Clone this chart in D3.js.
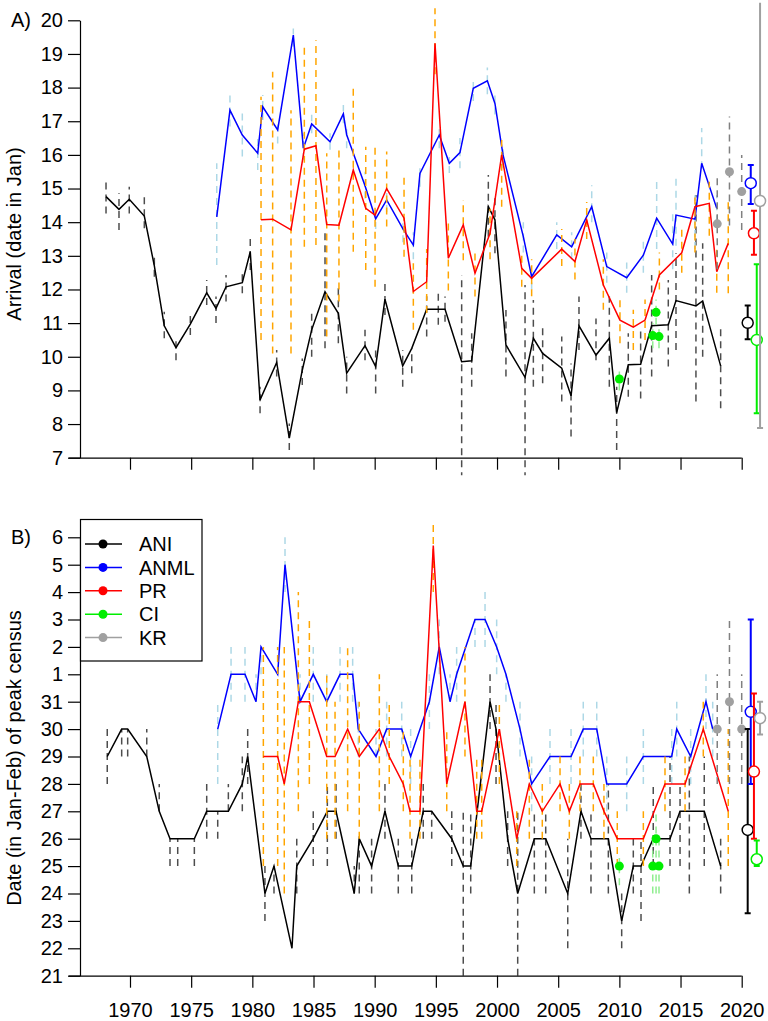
<!DOCTYPE html>
<html lang="en">
<head>
<meta charset="UTF-8">
<title>Arrival and peak census</title>
<script src="https://d3js.org/d3.v7.min.js"></script>
<style>
    body { margin: 0; background: white; }
    text { font-family: "Liberation Sans", Arial, sans-serif; font-size: 20px; fill: black; }
    .axis text { font-family: "Liberation Sans", Arial, sans-serif; font-size: 20px; }
    .axis path, .axis line { stroke: black; stroke-width: 1.2px; }
</style>
</head>
<body>
<svg width="768" height="1021"></svg>
<script>
// ---------- panel A: arrival (date in Jan) ----------
let aniYearA = [1968.04,1969.10,1969.94,1971.17,1971.99,1972.80,1973.76,1974.93,1976.27,1977.03,1977.85,1979.18,1979.83,1980.63,1981.99,1983.02,1984.08,1984.85,1985.94,1987.03,1987.71,1989.21,1990.08,1990.84,1992.29,1993.03,1994.25,1995.20,1995.75,1997.11,1997.93,1999.29,1999.83,2000.73,2002.29,2002.97,2003.73,2005.29,2006.05,2006.70,2008.09,2009.18,2009.78,2010.73,2011.74,2012.64,2014.00,2014.63,2016.26,2016.81,2018.28];
let aniA = [14.76,14.38,14.68,14.18,12.7,10.92,10.27,10.97,11.9,11.44,12.08,12.2,13.12,8.72,9.83,7.58,9.6,10.8,11.93,11.29,9.51,10.33,9.71,11.71,9.73,10.25,11.41,11.41,11.41,9.85,9.88,14.46,14.07,10.35,9.39,10.55,10.1,9.66,8.84,10.92,10.05,10.55,8.34,9.76,9.78,10.92,10.95,11.67,11.51,11.66,9.73];
let aniLoA = [14.26,13.77,14.26,13.82,12.38,10.55,9.9,10.65,11.54,11.0,11.64,11.89,12.58,8.32,9.41,7.23,9.16,10.0,10.25,10.4,8.91,9.9,8.91,11.24,9.11,9.51,10.6,10.95,11.04,6.0,9.11,13.57,13.08,9.41,6.0,9.11,9.21,8.67,7.63,10.2,9.9,9.11,7.23,8.81,8.76,9.41,9.71,10.2,8.67,10.0,8.47];
let aniHiA = [15.25,14.86,15.05,14.76,13.03,11.34,10.55,11.34,12.28,11.79,12.43,12.53,13.62,9.11,10.2,8.02,9.95,11.39,13.77,12.08,10.0,10.8,10.25,12.18,10.2,10.25,11.8,11.89,11.79,12.43,10.7,15.4,14.86,11.39,12.13,11.69,10.89,10.6,9.8,11.79,11.14,11.79,9.11,10.7,10.75,12.43,12.28,13.08,14.81,13.37,10.89];

let anmlYearA = [1977.09,1978.17,1979.18,1980.44,1980.85,1982.07,1983.35,1984.17,1984.85,1986.35,1987.44,1987.71,1989.21,1990.08,1990.98,1992.31,1993.16,1993.70,1995.28,1996.10,1996.97,1998.06,1999.21,1999.83,2000.49,2002.15,2002.83,2004.88,2006.10,2007.74,2008.97,2010.60,2011.96,2013.05,2014.36,2014.63,2016.18,2016.73,2017.96];
let anmlA = [14.16,17.33,16.59,16.05,17.43,16.74,19.56,16.2,16.92,16.39,17.22,16.6,15.08,14.1,14.66,13.8,13.32,15.45,16.59,15.75,16.07,17.98,18.2,17.53,16.0,13.57,12.38,13.62,13.27,14.46,12.68,12.35,13.02,14.12,13.35,14.21,14.09,15.75,14.41];
let anmlLoA = [12.73,16.84,15.95,15.55,17.04,16.34,19.22,15.85,16.64,16.15,16.94,16.2,14.7,13.8,14.3,13.4,12.9,15.05,16.2,15.46,15.6,17.6,17.8,17.2,15.6,13.1,12.0,13.2,12.9,14.0,12.2,11.9,12.5,13.2,12.6,13.3,13.2,15.6,14.0];
let anmlHiA = [15.75,17.83,17.24,16.54,17.78,17.04,19.76,16.64,17.19,16.64,17.48,16.9,15.5,14.5,15.0,14.1,13.7,15.6,16.8,15.94,16.5,18.3,18.6,17.8,16.3,14.0,12.7,14.0,13.7,15.1,13.1,12.8,13.5,15.25,14.3,15.35,14.8,16.8,14.8];

let prYearA = [1980.71,1981.66,1983.16,1984.25,1985.20,1986.08,1987.08,1988.25,1989.27,1990.03,1990.98,1992.40,1993.16,1994.25,1994.93,1996.02,1997.24,1998.20,1999.43,2000.38,2002.02,2002.83,2005.29,2006.37,2007.33,2008.69,2010.05,2011.14,2012.10,2013.27,2015.10,2016.18,2017.35,2017.96,2018.90];
let prA = [14.07,14.09,13.77,16.17,16.27,13.93,13.91,15.55,14.41,14.21,15.0,14.12,11.94,12.23,19.32,12.93,13.92,12.48,13.67,16.0,12.63,12.33,13.2,12.83,14.07,12.13,11.09,10.88,11.09,12.43,13.09,14.46,14.56,12.53,13.37];
let prLoA = [10.5,10.1,10.1,13.27,13.32,10.6,11.64,13.12,12.58,12.08,13.87,12.97,10.8,11.3,18.4,11.97,12.87,11.79,12.9,14.46,12.08,11.8,12.7,12.3,13.5,11.4,10.4,10.2,10.5,12.0,12.5,13.1,13.6,11.9,11.89];
let prHiA = [17.73,18.47,17.33,19.27,19.41,16.05,16.15,18.03,16.24,16.34,16.1,15.47,12.78,13.2,20.36,14.06,14.66,13.07,14.4,16.44,13.12,12.9,13.8,13.5,14.6,12.9,11.8,11.4,11.7,13.1,13.9,14.8,15.2,13.2,14.66];

let ciYearA = [2010.0,2012.73,2013.0,2013.24];
let ciA = [9.34,10.63,11.32,10.6];
let ciLoA = [9.0,10.25,10.95,10.25];
let ciHiA = [9.7,11.0,11.7,10.95];

let krYearA = [2018.0,2019.0,2020.0];
let krA = [13.95,15.5,14.91];
let krLoA = [12.6,13.9,13.77];
let krHiA = [15.4,17.14,16.0];

// overall means at the right edge: ANI, ANML, PR, CI, KR
let sumYear = [2020.49,2020.74,2021.0,2021.23,2021.5];
let sumA = [11.01,15.16,13.67,10.5,14.63];
let sumLoA = [10.52,14.54,13.03,8.32,7.88];
let sumHiA = [11.52,15.7,14.34,12.75,21];

// ---------- panel B: date of peak census (21 Jan .. 6 Feb as day of Jan) ----------
let aniYearB = [1968.14,1969.32,1969.81,1971.37,1972.39,1973.27,1973.90,1975.26,1976.27,1977.17,1978.04,1979.18,1979.62,1981.03,1981.77,1983.24,1983.63,1984.98,1986.13,1986.84,1988.33,1988.74,1989.75,1990.84,1991.93,1993.03,1993.97,1994.66,1996.30,1997.24,1997.85,1999.43,1999.92,2000.87,2001.69,2003.05,2003.98,2005.78,2006.86,2007.68,2009.10,2010.19,2011.14,2011.77,2012.77,2014.14,2014.96,2015.72,2016.94,2018.28];
let aniB = [29,30,30,29,27,26,26,26,27,27,27,28,29,24,25,22,25,26,27,27,24,26,25,27,25,25,27,27,26,25,25,31,30,26,24,26,26,24,27,26,26,23,25,25,26,26,27,27,27,25];
let aniLoB = [28,29,29,29,27,25,25,25,26,26,27,27,28,23,24,22,24,25,25,26,24,24,24,26,24,24,26,26,25,21,24,30,28,25,21,24,24,22,26,24,24,22,24,23,25,25,25,24,25,24];
let aniHiB = [30,30,30,30,28,26,26,26,28,27,28,29,30,25,25,22,26,27,28,28,25,26,26,28,26,26,28,27,27,27,27,32,31,27,27,27,27,26,28,27,28,24,26,26,28,29,28,29,29,26];

let anmlYearB = [1977.17,1978.26,1979.40,1980.30,1980.71,1982.07,1982.67,1983.90,1984.98,1986.08,1987.17,1988.20,1988.66,1990.11,1990.98,1992.21,1992.94,1994.47,1995.28,1996.16,1996.70,1998.20,1999.02,1999.97,2000.73,2001.88,2002.83,2004.33,2006.05,2007.05,2008.15,2008.97,2010.60,2011.96,2014.28,2014.69,2015.83,2017.08,2017.63];
let anmlB = [30,32,32,31,33,32,36,31,32,31,32,32,30,29,30,30,29,31,33,31,32,34,34,33,32,30,28,29,29,30,30,28,28,29,29,30,29,31,30];
let anmlLoB = [28,31,31,31,32,32,35,31,31,31,31,31,29,29,29,29,28,30,32,31,31,33,33,32,31,29,27,28,28,29,29,27,27,28,28,29,28,30,29];
let anmlHiB = [31,33,33,32,33,33,37,32,33,32,33,33,31,30,31,31,30,32,34,32,33,34,35,34,32,31,29,30,30,31,31,29,29,30,30,31,30,32,31];

let prYearB = [1980.90,1982.07,1982.61,1983.76,1984.66,1986.08,1986.76,1987.79,1988.74,1990.38,1991.19,1992.34,1992.89,1993.70,1994.79,1995.89,1997.38,1998.34,1998.75,2000.19,2001.61,2002.64,2003.70,2005.15,2005.91,2006.78,2007.87,2008.74,2009.83,2011.96,2013.73,2015.37,2016.86,2018.90];
let prB = [29,29,28,31,31,29,29,30,29,30,29,28,27,27,36.7,28,31,27,27,30,26,28,27,28,27,28,28,27,26,26,28,28,30,27];
let prLoB = [25,25,24,27,28,26,26,27,26,27,28,27,26,26,35,27,29,26,26,28,25,26,26,27,26,27,27,26,25,25,27,27,29,25];
let prHiB = [33,33,33,35,34,32,31,33,31,32,31,30,29,29,37.6,30,33,29,29,31,27,29,28,29,28,29,29,28,27,27,29,29,31,30];

let ciYearB = [2010.0,2012.73,2013.0,2013.24];
let ciB = [25,25,26,25];
let ciLoB = [24.3,24,24,24];
let ciHiB = [25.3,26,27,26];

let krYearB = [2018.0,2019.0,2020.0];
let krB = [30,31,30];
let krLoB = [28,28,28];
let krHiB = [32,34,32];

let sumB = [26.32,30.63,28.45,25.25,30.4];
let sumLoB = [23.28,28.0,26.0,25.0,29.8];
let sumHiB = [30.0,34.0,31.3,25.93,31.0];

let tickYearsX = [1970,1975,1980,1985,1990,1995,2000,2005,2010,2015,2020];
let ticksA = [7,8,9,10,11,12,13,14,15,16,17,18,19,20];
let ticksB = [21,22,23,24,25,26,27,28,29,30,31,32,33,34,35,36,37];
let labelsB = ['21','22','23','24','25','26','27','28','29','30','31','1','2','3','4','5','6'];

let legendNames = ['ANI','ANML','PR','CI','KR'];
let lineColours = ['black','#0000ff','#ff0000','#00ee00','#a0a0a0'];
let barColours = ['#4d4d4d','#add8e6','#ffa500','#90ee90','#808080'];

// ---------- drawing ----------
let svg = d3.select('svg');
let x = d3.scaleLinear().domain([1970, 2020]).range([130, 741.7]);
let yA = d3.scaleLinear().domain([7, 20]).range([457.7, 20.3]);
let yB = d3.scaleLinear().domain([21, 37]).range([975.7, 537.3]);

let defs = svg.append('defs');
defs.append('clipPath').attr('id', 'clipA').append('rect')
    .attr('x', 80).attr('y', yA(20.52)).attr('width', 688).attr('height', yA(6.48) - yA(20.52));
defs.append('clipPath').attr('id', 'clipB').append('rect')
    .attr('x', 80).attr('y', yB(37.64)).attr('width', 688).attr('height', yB(20.36) - yB(37.64));

function bars(g, y, yrs, lo, hi, colour) {
    g.append('g').selectAll('line').data(yrs).join('line')
        .attr('x1', d => x(d)).attr('x2', d => x(d))
        .attr('y1', (d, i) => y(lo[i])).attr('y2', (d, i) => y(hi[i]))
        .attr('stroke', colour).attr('stroke-width', 1.5)
        .attr('stroke-dasharray', '7,5');
}
function series(g, y, yrs, vals, colour) {
    let line = d3.line().x(d => x(d[0])).y(d => y(d[1]));
    g.append('path').datum(yrs.map((d, i) => [d, vals[i]]))
        .attr('d', line).attr('fill', 'none')
        .attr('stroke', colour).attr('stroke-width', 1.5);
}
function dots(g, y, yrs, vals, colour) {
    g.append('g').selectAll('circle').data(yrs).join('circle')
        .attr('cx', d => x(d)).attr('cy', (d, i) => y(vals[i]))
        .attr('r', 4.5).attr('fill', colour);
}
function summary(g, y, vals, lo, hi) {
    let s = g.append('g');
    sumYear.forEach(function (yr, i) {
        let cx = x(yr);
        s.append('line').attr('x1', cx).attr('x2', cx)
            .attr('y1', y(lo[i])).attr('y2', y(hi[i]))
            .attr('stroke', lineColours[i]).attr('stroke-width', 2);
        [lo[i], hi[i]].forEach(function (v) {
            s.append('line').attr('x1', cx - 3).attr('x2', cx + 3)
                .attr('y1', y(v)).attr('y2', y(v))
                .attr('stroke', lineColours[i]).attr('stroke-width', 2);
        });
        s.append('circle').attr('cx', cx).attr('cy', y(vals[i])).attr('r', 5.5)
            .attr('fill', 'white').attr('stroke', lineColours[i]).attr('stroke-width', 1.5);
    });
}

function panel(clip, y, d) {
    let g = svg.append('g').attr('clip-path', 'url(#' + clip + ')');
    bars(g, y, d.aniYear, d.aniLo, d.aniHi, barColours[0]);
    series(g, y, d.aniYear, d.ani, lineColours[0]);
    bars(g, y, d.anmlYear, d.anmlLo, d.anmlHi, barColours[1]);
    series(g, y, d.anmlYear, d.anml, lineColours[1]);
    bars(g, y, d.prYear, d.prLo, d.prHi, barColours[2]);
    series(g, y, d.prYear, d.pr, lineColours[2]);
    bars(g, y, d.ciYear, d.ciLo, d.ciHi, barColours[3]);
    dots(g, y, d.ciYear, d.ci, lineColours[3]);
    bars(g, y, d.krYear, d.krLo, d.krHi, barColours[4]);
    dots(g, y, d.krYear, d.kr, lineColours[4]);
    summary(g, y, d.sum, d.sumLo, d.sumHi);
}

panel('clipA', yA, {
    aniYear: aniYearA, ani: aniA, aniLo: aniLoA, aniHi: aniHiA,
    anmlYear: anmlYearA, anml: anmlA, anmlLo: anmlLoA, anmlHi: anmlHiA,
    prYear: prYearA, pr: prA, prLo: prLoA, prHi: prHiA,
    ciYear: ciYearA, ci: ciA, ciLo: ciLoA, ciHi: ciHiA,
    krYear: krYearA, kr: krA, krLo: krLoA, krHi: krHiA,
    sum: sumA, sumLo: sumLoA, sumHi: sumHiA
});
panel('clipB', yB, {
    aniYear: aniYearB, ani: aniB, aniLo: aniLoB, aniHi: aniHiB,
    anmlYear: anmlYearB, anml: anmlB, anmlLo: anmlLoB, anmlHi: anmlHiB,
    prYear: prYearB, pr: prB, prLo: prLoB, prHi: prHiB,
    ciYear: ciYearB, ci: ciB, ciLo: ciLoB, ciHi: ciHiB,
    krYear: krYearB, kr: krB, krLo: krLoB, krHi: krHiB,
    sum: sumB, sumLo: sumLoB, sumHi: sumHiB
});

// axes
function yAxis(y, ticks, labels) {
    let ax = d3.axisLeft(y).tickValues(ticks).tickSize(12).tickSizeOuter(0).tickPadding(5)
        .tickFormat((d, i) => labels ? labels[i] : d);
    let g = svg.append('g').attr('class', 'axis').attr('transform', 'translate(80,0)').call(ax);
    g.attr('font-size', null).attr('font-family', null);
}
function xAxis(y0, withLabels) {
    let ax = d3.axisBottom(x).tickValues(tickYearsX).tickSize(12).tickSizeOuter(0).tickPadding(15)
        .tickFormat(d => withLabels ? d : '');
    let g = svg.append('g').attr('class', 'axis').attr('transform', 'translate(0,' + y0 + ')').call(ax);
    g.attr('font-size', null).attr('font-family', null);
    g.select('.domain').remove();
    g.append('line').attr('x1', x(1965)).attr('x2', x(2020)).attr('y1', 0.5).attr('y2', 0.5);
}
yAxis(yA, ticksA, null);
yAxis(yB, ticksB, labelsB);
xAxis(yA(7), false);
xAxis(yB(21), true);

svg.append('text').attr('x', 11).attr('y', yA(20)).attr('dy', '0.32em').text('A)');
svg.append('text').attr('x', 11).attr('y', yB(37)).attr('dy', '0.32em').text('B)');

svg.append('text').attr('transform', 'translate(21,234) rotate(-90)')
    .attr('text-anchor', 'middle').text('Arrival (date in Jan)');
svg.append('text').attr('transform', 'translate(21,758) rotate(-90)')
    .attr('text-anchor', 'middle').text('Date (in Jan-Feb) of peak census');

// legend
let leg = svg.append('g');
leg.append('rect').attr('x', 80.5).attr('y', 519.5).attr('width', 121.5).attr('height', 141.5)
    .attr('fill', 'white').attr('stroke', 'black').attr('stroke-width', 1.2);
legendNames.forEach(function (name, i) {
    let ly = 544 + i * 23.4;
    leg.append('line').attr('x1', 85).attr('x2', 122).attr('y1', ly).attr('y2', ly)
        .attr('stroke', lineColours[i]).attr('stroke-width', 1.5);
    leg.append('circle').attr('cx', 103).attr('cy', ly).attr('r', 4.5).attr('fill', lineColours[i]);
    leg.append('text').attr('x', 139).attr('y', ly).attr('dy', '0.36em').text(name);
});
</script>
</body>
</html>
